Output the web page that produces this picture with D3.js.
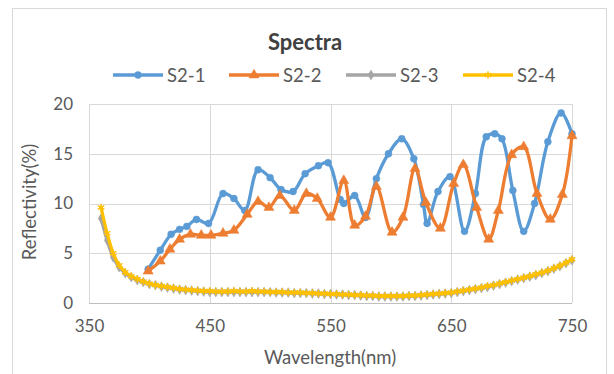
<!DOCTYPE html>
<html><head><meta charset="utf-8">
<script src="https://cdn.jsdelivr.net/npm/d3@7"></script>
<style>html,body{margin:0;padding:0;background:#fff;}svg{display:block;font-family:Lato,"Open Sans",sans-serif;}</style>
</head><body><svg id="c" width="614" height="374"></svg>
<script>
const title = "Spectra";
const seriesNames = ["S2-1","S2-2","S2-3","S2-4"];
const xTicks = [350,450,550,650,750];
const yTicks = [0,5,10,15,20];

const s1Wave = [399,409,418,425,431,439,449,461,470,479,490,500,509,519,529,540,548,558,561,570,579,588,598,609,619,627,630,639,649,661,670,679,686,692,701,710,719,730,741,750];
const s1Val  = [3.4,5.3,6.9,7.4,7.7,8.4,8.0,11.0,10.5,9.3,13.4,12.6,11.4,11.2,13.0,13.8,14.1,10.4,10.0,10.8,8.6,12.5,15.0,16.5,14.5,9.9,8.0,11.2,12.7,7.2,11.0,16.7,17.0,16.5,11.3,7.2,10.0,16.2,19.1,17.0];

const s2Wave = [399,409,417,425,434,443,451,461,470,481,490,499,508,520,530,539,550,561,570,579,588,601,610,620,629,641,652,660,671,681,689,700,710,721,732,742,750];
const s2Val  = [3.2,4.2,5.4,6.4,6.9,6.8,6.8,7.0,7.3,8.9,10.2,9.6,10.8,9.3,11.0,10.5,8.6,12.3,7.8,8.7,11.7,7.1,8.6,13.5,10.1,7.5,12.0,13.9,9.6,6.4,9.3,14.9,15.7,11.0,8.4,10.9,16.8];

const lowWave = [360,365,370,375,380,385,390,395,400,405,410,415,420,425,430,435,440,445,450,455,460,465,470,475,480,485,490,495,500,505,510,515,520,525,530,535,540,545,550,555,560,565,570,575,580,585,590,595,600,605,610,615,620,625,630,635,640,645,650,655,660,665,670,675,680,685,690,695,700,705,710,715,720,725,730,735,740,745,750];
const s3Val = [8.5,6.3,4.6,3.6,3.0,2.6,2.3,2.1,1.9,1.8,1.65,1.55,1.45,1.35,1.3,1.25,1.2,1.15,1.1,1.1,1.1,1.1,1.1,1.1,1.1,1.1,1.1,1.1,1.1,1.05,1.05,1.05,1.0,1.0,1.0,0.95,0.95,0.9,0.9,0.85,0.85,0.8,0.8,0.75,0.7,0.7,0.65,0.65,0.65,0.65,0.65,0.7,0.7,0.75,0.8,0.85,0.9,0.95,1.0,1.1,1.2,1.3,1.4,1.5,1.6,1.75,1.9,2.05,2.2,2.35,2.5,2.65,2.8,3.0,3.2,3.45,3.7,4.0,4.3];
const s4Val = [9.6,7.0,5.0,3.8,3.1,2.7,2.4,2.15,1.95,1.8,1.7,1.6,1.5,1.4,1.35,1.3,1.25,1.2,1.2,1.15,1.15,1.15,1.2,1.15,1.15,1.2,1.15,1.15,1.1,1.1,1.1,1.05,1.05,1.05,1.0,1.0,0.95,0.95,0.9,0.9,0.85,0.85,0.8,0.8,0.75,0.75,0.7,0.7,0.7,0.7,0.7,0.75,0.75,0.8,0.85,0.9,0.95,1.0,1.05,1.15,1.25,1.35,1.45,1.55,1.7,1.8,1.95,2.1,2.25,2.4,2.55,2.7,2.9,3.05,3.25,3.5,3.75,4.05,4.4];

const colors = ["#5B9BD5","#ED7D31","#A5A5A5","#FFC000"];
const series = [
  {name:seriesNames[0], w:s1Wave, v:s1Val, color:colors[0], marker:"circle"},
  {name:seriesNames[1], w:s2Wave, v:s2Val, color:colors[1], marker:"triangle"},
  {name:seriesNames[2], w:lowWave, v:s3Val, color:colors[2], marker:"diamond"},
  {name:seriesNames[3], w:lowWave, v:s4Val, color:colors[3], marker:"star"}
];

const svg = d3.select("#c");
const L=89, R=572, T=104, B=303;
const x = d3.scaleLinear().domain([350,750]).range([L,R]);
const y = d3.scaleLinear().domain([0,20]).range([B,T]);

svg.append("rect").attr("x",12.5).attr("y",8.5).attr("width",594).attr("height",380)
  .attr("fill","none").attr("stroke","#d9d9d9").attr("stroke-width",1);

svg.append("g").selectAll("line").data(yTicks.filter(d=>d>0)).join("line")
  .attr("x1",L).attr("x2",R).attr("y1",d=>Math.round(y(d))+0.5).attr("y2",d=>Math.round(y(d))+0.5)
  .attr("stroke","#d9d9d9");
svg.append("g").selectAll("line").data(xTicks).join("line")
  .attr("x1",d=>Math.round(x(d))+0.5).attr("x2",d=>Math.round(x(d))+0.5).attr("y1",T).attr("y2",B)
  .attr("stroke","#d9d9d9");
svg.append("line").attr("x1",L).attr("x2",R).attr("y1",B+0.5).attr("y2",B+0.5).attr("stroke","#bfbfbf");

const xa = svg.append("g").attr("transform",`translate(0,${B})`)
  .call(d3.axisBottom(x).tickValues(xTicks).tickSize(0).tickPadding(17).tickFormat(d3.format("d")));
xa.select(".domain").remove();
xa.selectAll("text").attr("fill","#595959").style("font-size","17px").style("font-family","Lato,sans-serif");
const ya = svg.append("g").attr("transform",`translate(${L},0)`)
  .call(d3.axisLeft(y).tickValues(yTicks).tickSize(0).tickPadding(16).tickFormat(d3.format("d")));
ya.select(".domain").remove();
ya.selectAll("text").attr("fill","#595959").style("font-size","17px").style("font-family","Lato,sans-serif");

svg.append("text").attr("x",330).attr("y",364).attr("text-anchor","middle")
  .attr("fill","#595959").style("font-size","18.5px").text("Wavelength(nm)");
svg.append("text").attr("transform","translate(36,202) rotate(-90)").attr("text-anchor","middle")
  .attr("fill","#595959").style("font-size","18.5px").text("Reflectivity(%)");
svg.append("text").attr("x",305).attr("y",50).attr("text-anchor","middle")
  .attr("fill","#404040").style("font-size","22px").style("font-weight","bold").text(title);

function markerPath(type){
  if(type==="circle") return d3.symbol(d3.symbolCircle, 38)();
  if(type==="triangle") return d3.symbol(d3.symbolTriangle, 44)();
  if(type==="diamond") return d3.symbol(d3.symbolDiamond, 28)();
  return d3.symbol(d3.symbolAsterisk, 40)();
}

const line = d3.line().curve(d3.curveCatmullRom.alpha(0.5));
const plot = svg.append("g");
series.forEach(s=>{
  const pts = s.w.map((w,i)=>[x(w), y(s.v[i])]);
  plot.append("path").attr("d",line(pts)).attr("fill","none").attr("stroke",s.color)
    .attr("stroke-width",3.3).attr("stroke-linejoin","round").attr("stroke-linecap","round");
  const mp = markerPath(s.marker);
  plot.append("g").selectAll("path").data(pts).join("path")
    .attr("transform",d=>`translate(${d[0]},${d[1]})`).attr("d",mp)
    .attr("fill",s.color).attr("stroke",s.color).attr("stroke-width",s.marker==="star"?1.4:0.5);
});

const legX = [113,229,346,463];
const lg = svg.append("g");
series.forEach((s,i)=>{
  const g = lg.append("g").attr("transform",`translate(${legX[i]},75)`);
  g.append("line").attr("x1",0).attr("x2",50).attr("y1",0).attr("y2",0).attr("stroke",s.color).attr("stroke-width",3.3);
  g.append("path").attr("transform","translate(25,0)").attr("d",markerPath(s.marker)).attr("fill",s.color).attr("stroke",s.color).attr("stroke-width",s.marker==="star"?1.4:0.5);
  g.append("text").attr("x",54).attr("y",6.5).attr("fill","#595959").style("font-size","18.5px").text(s.name);
});
</script></body></html>
